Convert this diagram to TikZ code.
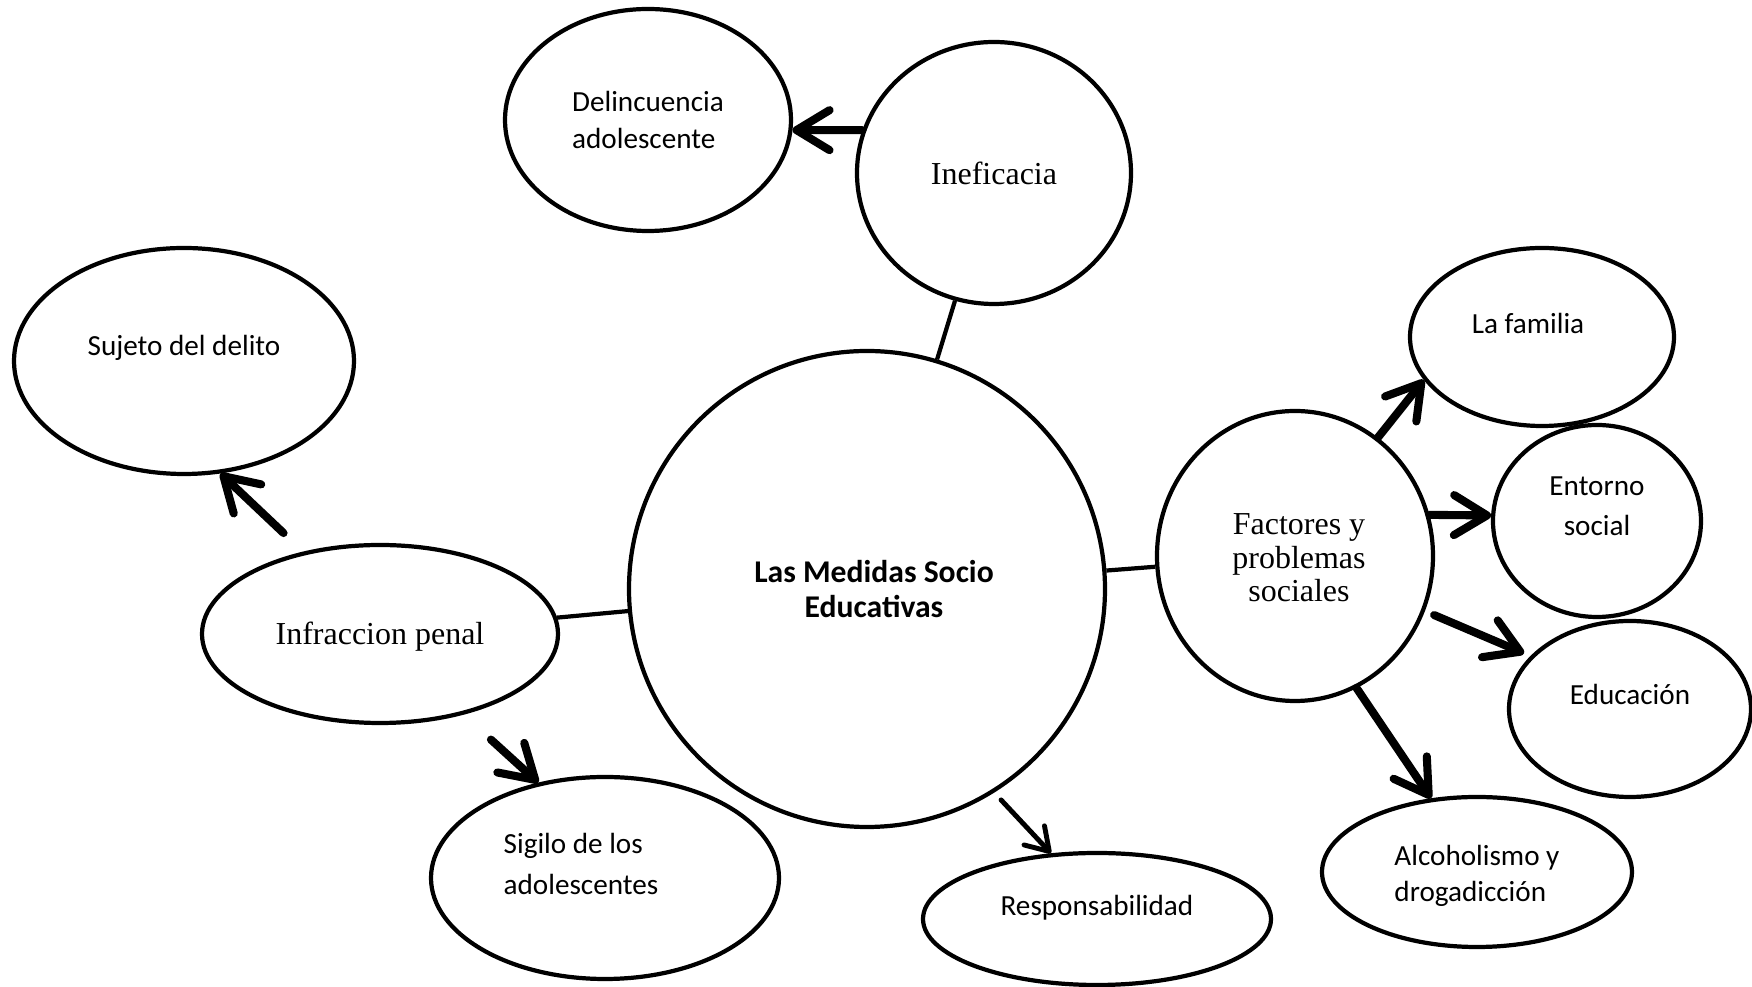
\documentclass[tikz,border=0pt]{standalone}
\usepackage{fontspec}
\setmainfont{Liberation Serif}
\newfontfamily\calibri{Carlito}
\usetikzlibrary{shapes.geometric,arrows.meta}

\begin{document}
\begin{tikzpicture}[x=0.1mm,y=-0.1mm]
\tikzstyle{bubble}=[ellipse, line width=1.2pt, draw=black, fill=white, inner sep=0pt]
\tikzstyle{sans}=[font=\calibri\fontsize{8.3}{10.3}\selectfont, align=center]
\tikzstyle{serif}=[font=\fontsize{9.1}{9.5}\selectfont, align=center]
\tikzstyle{link}=[line width=1.2pt]
\tikzstyle{connect}=[-{Straight Barb[length=3.3mm, width=4mm, round]}, line width=2.3pt, line cap=round]
\tikzstyle{connectthin}=[-{Straight Barb[length=2.2mm, width=2.8mm, round]}, line width=1.4pt, line cap=round]
\useasboundingbox (0,0) rectangle (1752,987);
	\node[bubble, circle, minimum size=47.6mm] (medidas) at (867,589) [label={[font=\calibri\bfseries\fontsize{9}{10}\selectfont, align=center, xshift=0.7mm]center:{Las Medidas Socio\\Educativas}}]{};
	\node[bubble, minimum width=27.4mm, minimum height=26.2mm] (inef) at (994,173) [label={[serif]center:{Ineficacia}}]{};
	\node[bubble, minimum width=28.6mm, minimum height=22.2mm] (delin) at (648,120) [label={[sans, align=left]center:{Delincuencia\\adolescente}}]{};
	\node[bubble, minimum width=34mm, minimum height=22.6mm] (sujeto) at (184,361) [label={[sans, yshift=1.3mm]center:{Sujeto del delito}}]{};
	\node[bubble, minimum width=35.6mm, minimum height=17.8mm] (infr) at (380,634) [label={[serif, yshift=-0.3mm]center:{Infraccion penal}}]{};
	\node[bubble, minimum width=34.8mm, minimum height=20.2mm] (sigilo) at (605,878) [label={[sans, align=left, xshift=-2.4mm, yshift=1.4mm]center:{Sigilo de los\\[1.3pt]adolescentes}}]{};
	\node[bubble, minimum width=34.8mm, minimum height=13.2mm] (resp) at (1097,919) [label={[sans, yshift=1.1mm]center:{Responsabilidad}}]{};
	\node[bubble, minimum width=27.6mm, minimum height=29mm] (fact) at (1295,556) [label={[serif, xshift=0.4mm, yshift=-0.2mm]center:{Factores y\\problemas\\sociales}}]{};
	\node[bubble, minimum width=26.4mm, minimum height=17.8mm] (familia) at (1542,337) [label={[sans, xshift=-1.4mm, yshift=1.4mm]center:{La familia}}]{};
	\node[bubble, minimum width=20.8mm, minimum height=19.2mm] (entorno) at (1597,521) [label={[sans, yshift=1.5mm]center:{Entorno\\[1.1pt]social}}]{};
	\node[bubble, minimum width=24.2mm, minimum height=17.6mm] (educ) at (1630,709) [label={[sans, yshift=1.5mm]center:{Educación}}]{};
	\node[bubble, minimum width=31mm, minimum height=15mm] (alcohol) at (1477,872) [label={[sans, align=left, yshift=-0.4mm]center:{Alcoholismo y\\drogadicción}}]{};

	\path
		(medidas) edge [link] (inef)
		(infr) edge [link] (medidas)
		(medidas) edge [link] (fact)
		(inef.162) edge [connect] (delin.356)
		(infr.133) edge [connect, shorten <=2.7mm] (sujeto.288)
		(infr.316) edge [connect, shorten <=3.7mm] (sigilo.125)
		(medidas.302) edge [connectthin, shorten <=1mm] (resp.125)
		(fact.55) edge [connect] (familia.200)
		(fact.17) edge [connect] (entorno.177)
		(fact.337) edge [connect, shorten <=1mm, shorten >=0.7mm] (educ.152)
		(fact.295) edge [connect] (alcohol.122);

\end{tikzpicture}
\end{document}
